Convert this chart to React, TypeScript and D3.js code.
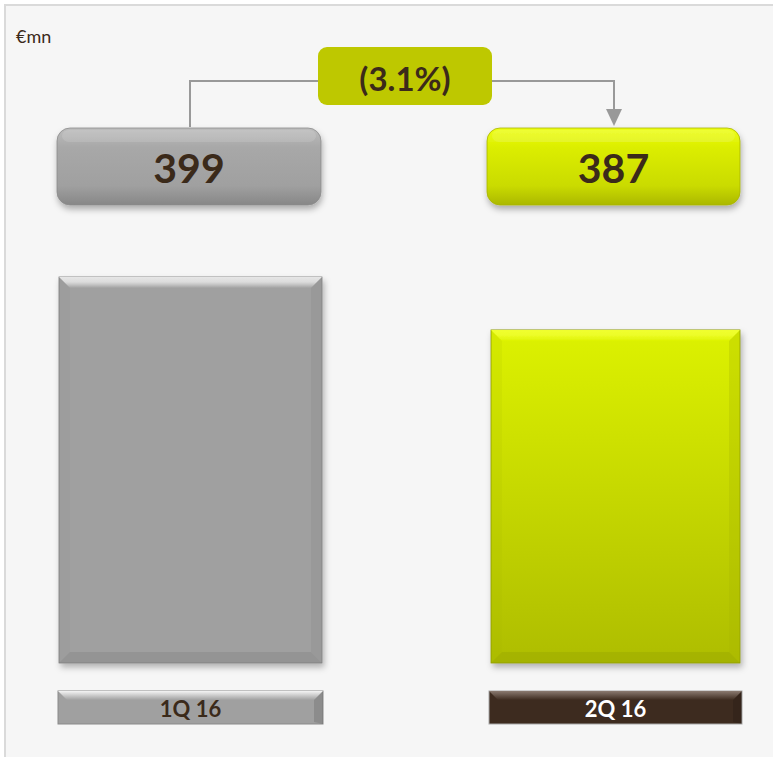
import React from "react";
import * as d3 from "d3";

const categories = ["1Q 16", "2Q 16"];
const values = [399, 387];
const changeLabel = "(3.1%)";
const unitLabel = "€mn";

const W = 773;
const H = 757;
const FONT = "Lato, 'Open Sans', sans-serif";

const x = d3.scalePoint<string>().domain(categories).range([190.5, 615.5]);
const y = d3.scaleLinear().domain([311.5, 399]).range([663, 277]);
const bevel = 11;

const barTheme = [
  { barW: 263, boxW: 264, boxDx: -1.5, labW: 265, top: "#e6e6e6", side: "#8a8a8a", bottom: "#858585", edge: "#7a7a7a", grad: ["#a0a0a0", "#a0a0a0"] },
  { barW: 249, boxW: 253, boxDx: -2, labW: 253, top: "#f0ff30", side: "#a8b600", bottom: "#98a600", edge: "#8a9600", grad: ["#ddf200", "#aebd00"] },
];

function Bar({ i }: { i: number }) {
  const t = barTheme[i];
  const cx = x(categories[i])!;
  const x0 = cx - t.barW / 2;
  const x1 = cx + t.barW / 2;
  const y0 = y(values[i]);
  const y1 = y(y.domain()[0]);
  const b = bevel;
  return (
    <g filter="url(#shadow)">
      <rect x={x0} y={y0} width={t.barW} height={y1 - y0} fill={`url(#barGrad${i})`} stroke={t.edge} strokeWidth={0.8} />
      <polygon points={`${x0},${y0} ${x1},${y0} ${x1 - b},${y0 + b} ${x0 + b},${y0 + b}`} fill={`url(#topBevel${i})`} />
      <polygon points={`${x0},${y0} ${x0 + b},${y0 + b} ${x0 + b},${y1 - b} ${x0},${y1}`} fill={t.side} opacity={0.12} />
      <polygon points={`${x1},${y0} ${x1 - b},${y0 + b} ${x1 - b},${y1 - b} ${x1},${y1}`} fill={t.side} opacity={0.3} />
      <polygon points={`${x0},${y1} ${x0 + b},${y1 - b} ${x1 - b},${y1 - b} ${x1},${y1}`} fill={t.bottom} opacity={0.45} />
    </g>
  );
}

function ValueBox({ i }: { i: number }) {
  const t = barTheme[i];
  const cx = x(categories[i])! + t.boxDx;
  const w = t.boxW;
  const top = 128;
  const h = 77;
  return (
    <g>
      <rect x={cx - w / 2} y={top} width={w} height={h} rx={13} fill={`url(#pill${i})`} filter="url(#shadow2)" stroke={i === 0 ? "#8c8c8c" : "#a8b400"} strokeWidth={0.8} />
      <rect x={cx - w / 2 + 5} y={top + 2} width={w - 10} height={12} rx={7} fill="#ffffff" opacity={0.12} />
      <text x={cx} y={top + h / 2 + 1} textAnchor="middle" dominantBaseline="central" fontFamily={FONT} fontWeight={700} fontSize={41} fill="#3b2a1a">
        {values[i]}
      </text>
    </g>
  );
}

function CatLabel({ i }: { i: number }) {
  const t = barTheme[i];
  const cx = x(categories[i])!;
  const w = t.labW;
  const top = 691;
  const h = 33;
  const dark = i === 1;
  const x0 = cx - w / 2;
  const x1 = cx + w / 2;
  const b = 9;
  return (
    <g>
      <rect x={x0} y={top} width={w} height={h} fill={dark ? "#3d2b1f" : "#a0a0a0"} stroke={dark ? "#a8a8a8" : "#8a8a8a"} strokeWidth={1} />
      <polygon points={`${x0},${top} ${x1},${top} ${x1 - b},${top + b} ${x0 + b},${top + b}`} fill={dark ? "url(#labTopDark)" : "url(#labTopGray)"} />
      <polygon points={`${x1},${top} ${x1 - b},${top + b} ${x1 - b},${top + h - 2} ${x1},${top + h}`} fill="#000" opacity={0.12} />
      <text x={cx} y={top + h / 2 + 1} textAnchor="middle" dominantBaseline="central" fontFamily={FONT} fontWeight={700} fontSize={22} fill={dark ? "#ffffff" : "#3b2a1a"}>
        {categories[i]}
      </text>
    </g>
  );
}

export default function App() {
  const cxL = x(categories[0])!;
  const cxR = x(categories[1])!;
  const boxX0 = 318;
  const boxX1 = 492;
  const lineY = 81;
  return (
    <svg width={W} height={H} style={{ position: "absolute", left: 0, top: 0 }}>
      <defs>
        <filter id="shadow" x="-10%" y="-10%" width="125%" height="125%">
          <feDropShadow dx={2} dy={4} stdDeviation={3} floodColor="#000" floodOpacity={0.28} />
        </filter>
        <filter id="shadow2" x="-10%" y="-20%" width="125%" height="150%">
          <feDropShadow dx={1} dy={4} stdDeviation={3} floodColor="#000" floodOpacity={0.3} />
        </filter>
        {barTheme.map((t, i) => (
          <linearGradient key={"bg" + i} id={`barGrad${i}`} x1="0" y1="0" x2="0" y2="1">
            <stop offset="0" stopColor={t.grad[0]} />
            <stop offset="1" stopColor={t.grad[1]} />
          </linearGradient>
        ))}
        {barTheme.map((t, i) => (
          <linearGradient key={"tb" + i} id={`topBevel${i}`} x1="0" y1="0" x2="0" y2="1">
            <stop offset="0" stopColor={t.top} />
            <stop offset="0.45" stopColor={t.top} stopOpacity={0.85} />
            <stop offset="1" stopColor={t.grad[0]} />
          </linearGradient>
        ))}
        <linearGradient id="pill0" x1="0" y1="0" x2="0" y2="1">
          <stop offset="0" stopColor="#bdbdbd" />
          <stop offset="0.25" stopColor="#a8a8a8" />
          <stop offset="0.75" stopColor="#a0a0a0" />
          <stop offset="1" stopColor="#878787" />
        </linearGradient>
        <linearGradient id="pill1" x1="0" y1="0" x2="0" y2="1">
          <stop offset="0" stopColor="#eeff18" />
          <stop offset="0.25" stopColor="#dcee00" />
          <stop offset="0.75" stopColor="#cadb00" />
          <stop offset="1" stopColor="#abb800" />
        </linearGradient>
        <linearGradient id="labTopGray" x1="0" y1="0" x2="0" y2="1">
          <stop offset="0" stopColor="#f4f4f4" />
          <stop offset="1" stopColor="#a0a0a0" />
        </linearGradient>
        <linearGradient id="labTopDark" x1="0" y1="0" x2="0" y2="1">
          <stop offset="0" stopColor="#8a7a70" />
          <stop offset="1" stopColor="#3d2b1f" />
        </linearGradient>
      </defs>

      <rect x={0} y={0} width={W} height={H} fill="#ffffff" />
      <rect x={5} y={5} width={W + 20} height={H + 20} fill="#f6f6f6" stroke="#dadada" strokeWidth={2} />

      <text x={16} y={43} fontFamily={FONT} fontSize={18} fill="#3b2a1a">{unitLabel}</text>

      <g stroke="#999999" strokeWidth={2} fill="none">
        <path d={`M${cxL - 0.5},127 V${lineY} H${boxX0}`} />
        <path d={`M${boxX1},${lineY} H${cxR - 1.5} V111`} />
      </g>
      <polygon points={`${cxR - 9.5},109 ${cxR + 6.5},109 ${cxR - 1.5},126`} fill="#999999" />

      <rect x={boxX0} y={47} width={boxX1 - boxX0} height={58} rx={9} fill="#bec800" />
      <text x={(boxX0 + boxX1) / 2} y={78} textAnchor="middle" dominantBaseline="central" fontFamily={FONT} fontWeight={700} fontSize={33} fill="#3b2a1a">
        {changeLabel}
      </text>

      {categories.map((_, i) => <Bar key={"b" + i} i={i} />)}
      {categories.map((_, i) => <ValueBox key={"v" + i} i={i} />)}
      {categories.map((_, i) => <CatLabel key={"c" + i} i={i} />)}
    </svg>
  );
}
